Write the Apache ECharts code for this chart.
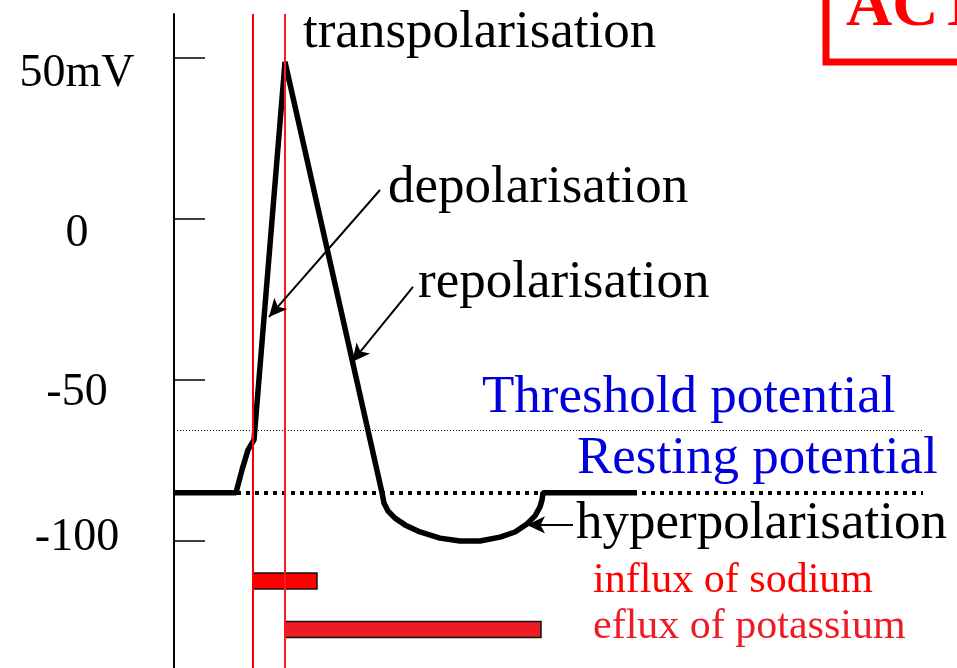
<!DOCTYPE html>
<html>
<head>
<meta charset="utf-8">
<title>Action potential</title>
<script src="https://cdn.jsdelivr.net/npm/echarts@6/dist/echarts.min.js"></script>
<style>
  html, body { margin: 0; padding: 0; background: #fff; }
  #chart { width: 957px; height: 668px; }
</style>
</head>
<body>
<div id="chart"></div>
<script>
// membrane potential trace (time in arbitrary units, mV)
var traceTime = [0, 6.2, 6.8, 7.4, 8.0, 11.1, 20.8, 21.0, 21.4, 22.1, 23.1, 24.6, 26.6, 28.6, 30.6, 32.6, 34.1, 35.3, 36.1, 36.6, 36.8, 36.9, 46.3];
var traceMv   = [-85, -85, -77.9, -71.7, -68.6, 48.8, -85, -88.2, -90.7, -92.9, -95.0, -97.2, -99.1, -100.0, -100.0, -98.8, -97.2, -94.7, -92.2, -89.4, -87.3, -85, -85];

// levels
var thresholdMv = -65.5;
var restingMv = -85;
var levelEnd = 74.9;

// sodium / potassium channel open phases: [start, end, row level]
var channelNames = ['influx of sodium', 'eflux of potassium'];
var channelStart = [7.9, 11.1];
var channelEnd = [14.3, 36.7];
var channelLevel = [-112.4, -127.5];
var channelColors = ['#ff0000', '#ed1c24'];

// vertical markers (start of depolarisation, peak)
var markerTimes = [7.9, 11.1];

// y axis ticks
var yTicks = [-100, -50, 0, 50];
var yTickLabels = ['-100', '-50', '0', '50mV'];

var serif = '"Liberation Serif", "DejaVu Serif", serif';

var traceData = [];
for (var i = 0; i < traceTime.length; i++) {
    traceData.push([traceTime[i], traceMv[i]]);
}
var channelData = [];
for (var i = 0; i < channelNames.length; i++) {
    channelData.push({ name: channelNames[i], value: [channelStart[i], channelEnd[i], channelLevel[i]] });
}

// label vertical nudges in the original drawing
var labelPad = { '50': [32, 0, 0, 0], '0': [30, 0, 0, 0], '-50': [26, 0, 0, 0], '-100': [0, 0, 6, 0] };

var myChart = echarts.init(document.getElementById('chart'));
var option = {
    animation: false,
    backgroundColor: '#fff',
    grid: { left: 174, right: 0, top: 14, bottom: 0 },
    xAxis: { type: 'value', min: 0, max: 78.3, show: false },
    yAxis: {
        type: 'value',
        min: -139.44,
        max: 63.66,
        axisLine: { show: true, lineStyle: { color: '#000', width: 2 } },
        axisTick: { show: true, inside: true, length: 31, customValues: yTicks, lineStyle: { color: '#000', width: 1.5 } },
        axisLabel: {
            customValues: yTicks,
            align: 'center',
            margin: 97,
            color: '#000',
            fontFamily: serif,
            fontSize: 46,
            formatter: function (v) {
                var idx = yTicks.indexOf(v);
                var key = 'p' + String(v).replace('-', 'm');
                return '{' + key + '|' + yTickLabels[idx] + '}';
            },
            rich: {
                p50: { padding: labelPad['50'], fontSize: 46, fontFamily: serif },
                p0: { padding: labelPad['0'], fontSize: 46, fontFamily: serif },
                pm50: { padding: labelPad['-50'], fontSize: 46, fontFamily: serif },
                pm100: { padding: labelPad['-100'], fontSize: 46, fontFamily: serif }
            }
        },
        splitLine: { show: false }
    },
    series: [
        {
            // level lines and red markers
            type: 'line',
            data: [],
            silent: true,
            markLine: {
                silent: true,
                symbol: ['none', 'none'],
                label: { show: false },
                data: [
                    [{ coord: [0, thresholdMv], lineStyle: { color: '#000', width: 1, type: [1, 2] } }, { coord: [levelEnd, thresholdMv] }],
                    [{ coord: [0, restingMv], lineStyle: { color: '#000', width: 4, type: [4, 5] } }, { coord: [levelEnd, restingMv] }],
                    { xAxis: markerTimes[0], lineStyle: { color: '#ff0000', width: 2, type: 'solid' } },
                    { xAxis: markerTimes[1], lineStyle: { color: '#ff1a1a', width: 2, type: 'solid' } }
                ]
            }
        },
        {
            name: 'membrane potential',
            type: 'line',
            data: traceData,
            symbol: 'none',
            lineStyle: { color: '#000', width: 5.5 },
            z: 3,
            markLine: {
                silent: true,
                symbol: ['none', 'arrow'],
                symbolSize: [13, 18],
                label: { show: false },
                lineStyle: { color: '#000', width: 2, type: 'solid' },
                data: [
                    [{ coord: [20.6, 9.0] }, { coord: [9.5, -30.4] }],
                    [{ coord: [23.9, -21.1] }, { coord: [17.8, -44.4] }],
                    [{ coord: [39.9, -95] }, { coord: [35.3, -95] }]
                ]
            }
        },
        {
            name: 'channels',
            type: 'custom',
            data: channelData,
            z: 4,
            renderItem: function (params, api) {
                var s = api.coord([api.value(0), api.value(2)]);
                var e = api.coord([api.value(1), api.value(2)]);
                return {
                    type: 'rect',
                    shape: { x: s[0], y: s[1] - 8, width: e[0] - s[0], height: 16 },
                    style: { fill: channelColors[params.dataIndex], stroke: '#111', lineWidth: 1.5 }
                };
            }
        }
    ],
    graphic: [
        { type: 'rect', shape: { x: 826, y: -20, width: 200, height: 82 }, style: { fill: 'none', stroke: '#ff0000', lineWidth: 7 } },
        { type: 'text', x: 846, y: 8, style: { text: 'ACTION POTENTIAL', font: 'bold 64px ' + serif, fill: '#ff0000', verticalAlign: 'middle' } },
        { type: 'text', x: 303, y: 33, style: { text: 'transpolarisation', font: '53px ' + serif, fill: '#000', verticalAlign: 'middle' } },
        { type: 'text', x: 388, y: 188, style: { text: 'depolarisation', font: '53px ' + serif, fill: '#000', verticalAlign: 'middle' } },
        { type: 'text', x: 418, y: 283, style: { text: 'repolarisation', font: '53px ' + serif, fill: '#000', verticalAlign: 'middle' } },
        { type: 'text', x: 482, y: 398, style: { text: 'Threshold potential', font: '53px ' + serif, fill: '#0000dd', verticalAlign: 'middle' } },
        { type: 'text', x: 577, y: 459, style: { text: 'Resting potential', font: '53px ' + serif, fill: '#0000dd', verticalAlign: 'middle' } },
        { type: 'text', x: 576, y: 524, style: { text: 'hyperpolarisation', font: '53px ' + serif, fill: '#000', verticalAlign: 'middle' } },
        { type: 'text', x: 593, y: 581, style: { text: channelNames[0], font: '42px ' + serif, fill: channelColors[0], verticalAlign: 'middle' } },
        { type: 'text', x: 593, y: 627, style: { text: channelNames[1], font: '42px ' + serif, fill: channelColors[1], verticalAlign: 'middle' } }
    ]
};
myChart.setOption(option);
</script>
</body>
</html>
